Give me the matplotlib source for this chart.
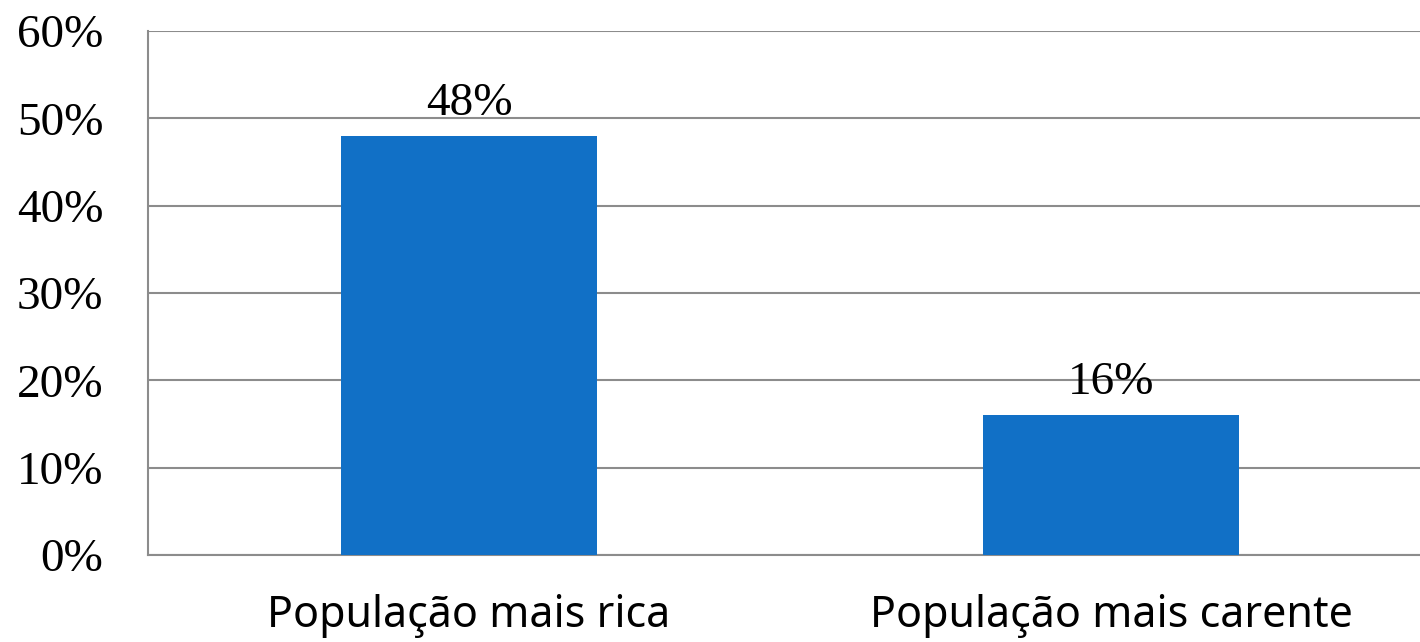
import matplotlib
matplotlib.use("Agg")
import matplotlib.pyplot as plt
from matplotlib.ticker import PercentFormatter

categories = ["População mais rica", "População mais carente"]
values = [48, 16]
y_ticks = [0, 10, 20, 30, 40, 50, 60]

bar_color = "#1170C6"
grid_color = "#8C8C8C"

fig = plt.figure(figsize=(14.2, 6.42), dpi=100)
# axes runs slightly past the right edge, as in the original
ax = fig.add_axes([148 / 1420, (642 - 555) / 642, (1432 - 148) / 1420, (555 - 31) / 642])

x = range(len(categories))
ax.bar(x, values, width=0.4, color=bar_color, zorder=3)

for xi, v in zip(x, values):
    ax.annotate(f"{v}%", (xi, v), xytext=(0, 8), textcoords="offset points",
                ha="center", va="bottom", fontsize=34, family="Liberation Serif", zorder=4)

ax.set_xlim(-0.5, 1.5)
ax.set_ylim(0, 60)
ax.set_yticks(y_ticks)
ax.yaxis.set_major_formatter(PercentFormatter(decimals=0))
ax.set_xticks(list(x))
ax.set_xticklabels(categories, fontsize=31, family="Noto Sans")

ax.grid(axis="y", color=grid_color, linewidth=1.5, zorder=0)
for side in ["top", "right"]:
    ax.spines[side].set_visible(False)
ax.spines["left"].set_color(grid_color)
ax.spines["left"].set_linewidth(1.5)
ax.spines["bottom"].set_color(grid_color)
ax.spines["bottom"].set_linewidth(1.5)

ax.tick_params(axis="y", length=0, pad=32, labelsize=34)
ax.tick_params(axis="x", length=0, pad=28)
for lbl in ax.get_yticklabels():
    lbl.set_family("Liberation Serif")

fig.savefig("out.png", dpi=100)
